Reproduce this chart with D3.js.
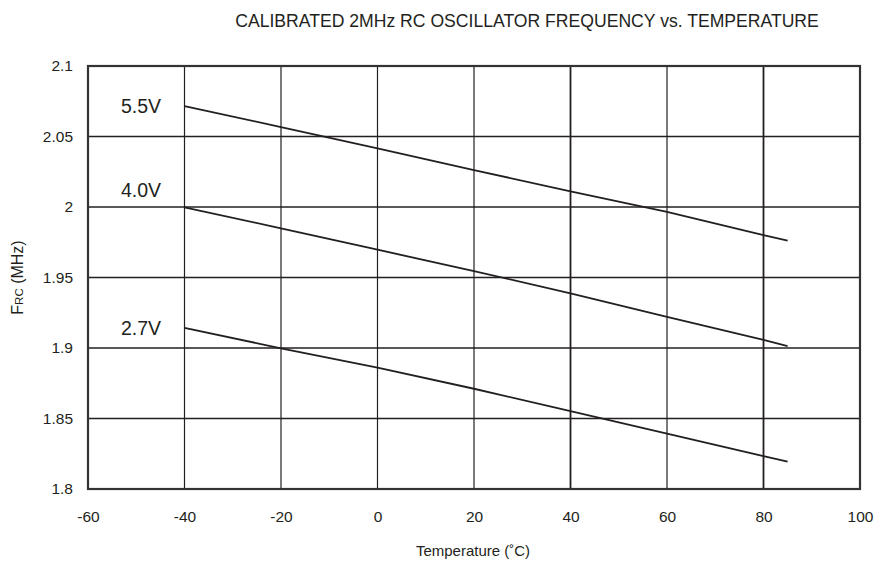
<!DOCTYPE html>
<html>
<head>
<meta charset="utf-8">
<script src="https://cdn.jsdelivr.net/npm/d3@7"></script>
<style>
  body { margin: 0; background: #fff; }
  svg { display: block; font-family: "Liberation Sans", Arial, sans-serif; }
</style>
</head>
<body>
<svg id="chart" width="884" height="561"></svg>
<script>
const temps = [-40, -20, 0, 20, 40, 60, 80, 85];
const f55 = [2.0716, 2.0567, 2.0416, 2.0262, 2.0111, 1.9965, 1.9800, 1.9761];
const f40 = [1.9998, 1.9849, 1.9697, 1.9546, 1.9388, 1.9220, 1.9057, 1.9014];
const f27 = [1.9142, 1.8998, 1.8860, 1.8711, 1.8552, 1.8393, 1.8234, 1.8194];
const seriesNames = ["5.5V", "4.0V", "2.7V"];
const xTicks = [-60, -40, -20, 0, 20, 40, 60, 80, 100];
const yTicks = [1.8, 1.85, 1.9, 1.95, 2, 2.05, 2.1];

const svg = d3.select("#chart");
const L = 88, R = 860, T = 66, B = 489;
const x = d3.scaleLinear().domain([-60, 100]).range([L, R]);
const y = d3.scaleLinear().domain([1.8, 2.1]).range([B, T]);
const ink = "#231f20";

// title
svg.append("text").attr("x", 527).attr("y", 27).attr("text-anchor", "middle")
  .attr("font-size", 17.6).attr("fill", ink)
  .text("CALIBRATED 2MHz RC OSCILLATOR FREQUENCY vs. TEMPERATURE");

// grid
const grid = svg.append("g");
grid.selectAll("line.v").data(xTicks.slice(1, -1)).join("line")
  .attr("x1", d => x(d)).attr("x2", d => x(d)).attr("y1", T).attr("y2", B)
  .attr("stroke", ink).attr("stroke-width", d => (d === 40 || d === 80) ? 1.8 : 1.2);
grid.selectAll("line.h").data(yTicks.slice(1, -1)).join("line")
  .attr("x1", L).attr("x2", R).attr("y1", d => y(d)).attr("y2", d => y(d))
  .attr("stroke", ink).attr("stroke-width", 1.4);

// axes
const xAxis = svg.append("g").attr("transform", `translate(0,${B})`)
  .call(d3.axisBottom(x).tickValues(xTicks).tickSize(0).tickPadding(22).tickFormat(d => String(d)));
const yAxis = svg.append("g").attr("transform", `translate(${L},0)`)
  .call(d3.axisLeft(y).tickValues(yTicks).tickSize(0).tickPadding(15).tickFormat(d => String(+d.toFixed(2))));
[xAxis, yAxis].forEach(a => {
  a.select(".domain").remove();
  a.selectAll("text").attr("font-size", 15.5).attr("fill", ink)
    .attr("font-family", "'Liberation Sans', Arial, sans-serif");
});

// frame
svg.append("rect").attr("x", L).attr("y", T).attr("width", R - L).attr("height", B - T)
  .attr("fill", "none").attr("stroke", "#333").attr("stroke-width", 2.2);

// series lines
const line = d3.line().x((d, i) => x(temps[i])).y(d => y(d));
const all = [f55, f40, f27];
svg.append("g").selectAll("path").data(all).join("path")
  .attr("d", d => line(d)).attr("fill", "none").attr("stroke", ink).attr("stroke-width", 1.8);

// series labels
svg.append("g").selectAll("text").data(all).join("text")
  .attr("x", 141).attr("y", d => y(d[0]))
  .attr("text-anchor", "middle").attr("font-size", 19.5).attr("fill", ink)
  .attr("dy", (d, i) => i === 1 ? "-0.55em" : "0.35em")
  .text((d, i) => seriesNames[i]);

// axis titles
svg.append("text").attr("x", 473).attr("y", 556).attr("text-anchor", "middle")
  .attr("font-size", 15).attr("fill", ink).text("Temperature (˚C)");

const yl = svg.append("text").attr("transform", `translate(23,${(T + B) / 2}) rotate(-90)`)
  .attr("text-anchor", "middle").attr("font-size", 16).attr("fill", ink);
yl.append("tspan").text("F");
yl.append("tspan").attr("font-size", 11.5).text("RC");
yl.append("tspan").text(" (MHz)");
</script>
</body>
</html>
